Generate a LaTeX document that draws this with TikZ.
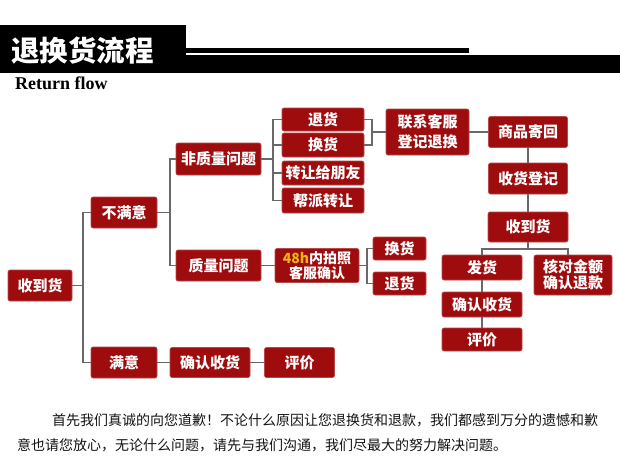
\documentclass[tikz,border=0pt]{standalone}
\usepackage{fontspec}
\setmainfont{Liberation Serif}
\newfontfamily\cjk{Noto Sans CJK SC}
\definecolor{boxred}{RGB}{158,12,14}
\definecolor{linegray}{RGB}{105,105,105}
\definecolor{hgold}{RGB}{240,180,20}
\definecolor{textgray}{RGB}{20,20,20}
\usetikzlibrary{positioning}

\begin{document}
\begin{tikzpicture}[x=1pt, y=-1pt,
  box/.style={fill=boxred, draw=boxred!75!white, line width=0.6pt,
    rounded corners=2pt, inner sep=0pt, align=center, text=white,
    font=\cjk\bfseries\fontsize{15}{17}\selectfont},
  conn/.style={draw=linegray, line width=1.6pt},
]
\useasboundingbox (0,0) rectangle (620,469);
\fill[white] (0,0) rectangle (620,469);

% Header band
\fill[black] (0,25) rectangle (186,73);
\fill[black] (186,48) rectangle (469,53);
\fill[black] (186,55) rectangle (620,73);
\node[anchor=west, inner sep=0pt, text=white,
  font=\cjk\bfseries\fontsize{28.5}{30}\selectfont] (title) at (11,51) {退换货流程};
\node[anchor=west, inner sep=0pt,
  font=\bfseries\fontsize{18}{20}\selectfont] (subtitle) at (15,83) {Return flow};

% Left tree
\node[box, minimum width=64, minimum height=31] (sdh) at (40,285.5) {收到货};
\node[box, minimum width=66, minimum height=31] (bmy) at (124,212.5) {不满意};
\node[box, minimum width=66, minimum height=31] (my) at (124,362.5) {满意};
\node[box, minimum width=85, minimum height=32] (fzl) at (218.5,159) {非质量问题};
\node[box, minimum width=85, minimum height=31] (zl) at (218.5,265.5) {质量问题};

% Non-quality branch
\node[box, minimum width=82, minimum height=23] (th1) at (323,119.5) {退货};
\node[box, minimum width=82, minimum height=24] (hh1) at (323,145) {换货};
\node[box, minimum width=82, minimum height=24] (zr) at (323,173) {转让给朋友};
\node[box, minimum width=82, minimum height=25] (bp) at (323,200.5) {帮派转让};
\node[box, minimum width=83, minimum height=46,
  font=\cjk\bfseries\fontsize{15}{20}\selectfont] (lx) at (427.5,132) {联系客服\\登记退换};
\node[box, minimum width=79, minimum height=31] (sp) at (528,132) {商品寄回};
\node[box, minimum width=79, minimum height=31] (sh) at (528,178.5) {收货登记};
\node[box, minimum width=80, minimum height=30] (sdh2) at (528,227) {收到货};
\node[box, minimum width=80, minimum height=25] (fh) at (482,267.5) {发货};
\node[box, minimum width=78, minimum height=40,
  font=\cjk\bfseries\fontsize{15}{16}\selectfont] (hd) at (573,275) {核对金额\\确认退款};
\node[box, minimum width=80, minimum height=25] (qr2) at (482,304.5) {确认收货};
\node[box, minimum width=80, minimum height=23] (pj2) at (482,339.5) {评价};

% Quality branch
\node[box, minimum width=84, minimum height=34,
  font=\cjk\bfseries\fontsize{14}{15}\selectfont] (h48) at (317,265.5)
  {{\color{hgold}48h}内拍照\\客服确认};
\node[box, minimum width=53, minimum height=23] (hh2) at (399.5,248.5) {换货};
\node[box, minimum width=53, minimum height=23] (th2) at (399.5,283.5) {退货};

% Satisfied branch
\node[box, minimum width=80, minimum height=30] (qr1) at (210,362.5) {确认收货};
\node[box, minimum width=70, minimum height=30] (pj1) at (299.5,362.5) {评价};

% Joints
\coordinate (j1) at (83,285.5);
\coordinate (j2) at (170,212.5);
\coordinate (j3) at (273,159);
\coordinate (j4) at (372,132);
\coordinate (j5) at (528,249);
\coordinate (j6) at (367,265.5);

% Connectors
\draw[conn] (sdh) -- (j1);
\draw[conn] (bmy.west) -| (j1) |- (my.west);
\draw[conn] (bmy) -- (j2);
\draw[conn] (fzl.west) -| (j2) |- (zl.west);
\draw[conn] (fzl) -- (j3);
\draw[conn] (th1.west) -| (j3) |- (bp.west);
\draw[conn] (hh1.west) -| (j3);
\draw[conn] (zr.west) -| (j3);
\draw[conn] (th1.east) -| (j4) |- (hh1.east);
\draw[conn] (j4) -- (lx.west);
\draw[conn] (lx) -- (sp);
\draw[conn] (sp) -- (sh);
\draw[conn] (sh) -- (sdh2);
\draw[conn] (sdh2) -- (j5);
\draw[conn] (fh.north) |- (j5) -| ([xshift=-5]hd.north);
\draw[conn] (fh) -- (qr2);
\draw[conn] (qr2) -- (pj2);
\draw[conn] (zl) -- (h48);
\draw[conn] (h48) -- (j6);
\draw[conn] (hh2.west) -| (j6) |- (th2.west);
\draw[conn] (my) -- (qr1);
\draw[conn] (qr1) -- (pj1);

% Note
\node[anchor=west, inner sep=0pt, text=textgray,
  font=\cjk\fontsize{14}{16}\selectfont] (note1) at (52,420)
  {首先我们真诚的向您道歉！不论什么原因让您退换货和退款，我们都感到万分的遗憾和歉};
\node[anchor=west, inner sep=0pt, text=textgray,
  font=\cjk\fontsize{14}{16}\selectfont] (note2) at (17,445)
  {意也请您放心，无论什么问题，请先与我们沟通，我们尽最大的努力解决问题。};
\end{tikzpicture}
\end{document}
